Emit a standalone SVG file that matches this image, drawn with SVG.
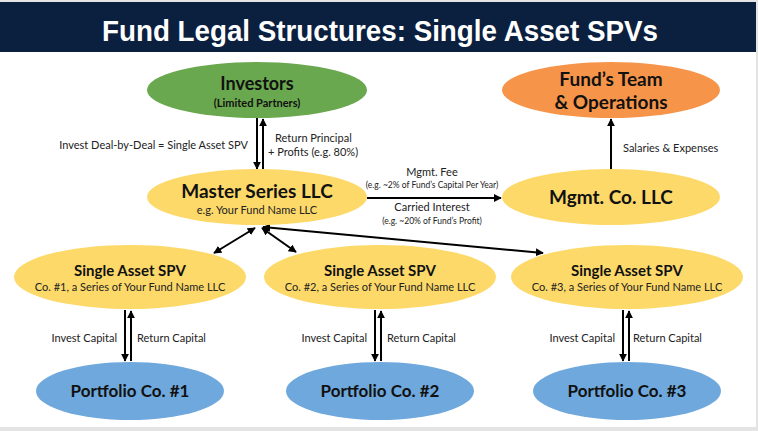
<svg xmlns="http://www.w3.org/2000/svg" width="758" height="431" viewBox="0 0 758 431">
<defs>
<marker id="ah" viewBox="0 0 10 10" refX="9" refY="5" markerWidth="4" markerHeight="4" orient="auto-start-reverse" markerUnits="strokeWidth"><path d="M0,0 L10,5 L0,10 z" fill="#000"/></marker>
<style>
.b{font-family:Lato,"Liberation Sans",sans-serif;font-weight:bold;fill:#111;text-anchor:middle}
.l{font-family:Lato,"Liberation Sans",sans-serif;fill:#222;font-size:11px}
.s{font-family:Lato,"Liberation Sans",sans-serif;fill:#222;font-size:8.5px;text-anchor:middle}
.c{stroke:#000;stroke-width:2;fill:none}
.y{fill:#fdd96a}
.bl{fill:#6fa8dc}
</style>
</defs>
<rect width="758" height="431" fill="#e4e4e4"/>
<rect x="0" y="2" width="756" height="425" fill="#ffffff"/>
<rect x="0" y="2" width="756" height="50" fill="#0b1f3f"/>
<text x="380" y="41" font-family="'Liberation Sans',sans-serif" font-weight="bold" font-size="30" fill="#fff" text-anchor="middle" textLength="556" lengthAdjust="spacingAndGlyphs">Fund Legal Structures: Single Asset SPVs</text>

<g id="connectors">
<line class="c" x1="257" y1="118" x2="257" y2="169" marker-end="url(#ah)"/>
<line class="c" x1="263" y1="169" x2="263" y2="119" marker-end="url(#ah)"/>
<line class="c" x1="611" y1="169" x2="611" y2="119" marker-end="url(#ah)"/>
<line class="c" x1="367" y1="198" x2="501" y2="198" marker-end="url(#ah)"/>
<line class="c" x1="255" y1="228" x2="214" y2="253" marker-start="url(#ah)" marker-end="url(#ah)"/>
<line class="c" x1="262" y1="228" x2="296" y2="252" marker-start="url(#ah)" marker-end="url(#ah)"/>
<line class="c" x1="263" y1="227" x2="543" y2="253" marker-start="url(#ah)" marker-end="url(#ah)"/>
<line class="c" x1="125" y1="310" x2="125" y2="361" marker-end="url(#ah)"/>
<line class="c" x1="131" y1="361" x2="131" y2="311" marker-end="url(#ah)"/>
<line class="c" x1="375" y1="310" x2="375" y2="361" marker-end="url(#ah)"/>
<line class="c" x1="381" y1="361" x2="381" y2="311" marker-end="url(#ah)"/>
<line class="c" x1="623" y1="310" x2="623" y2="361" marker-end="url(#ah)"/>
<line class="c" x1="629" y1="361" x2="629" y2="311" marker-end="url(#ah)"/>
<text class="l" x="248" y="149" text-anchor="end">Invest Deal-by-Deal = Single Asset SPV</text>
<text class="l" x="275" y="142">Return Principal</text>
<text class="l" x="268" y="156">+ Profits (e.g. 80%)</text>
<text class="l" x="623" y="152">Salaries &amp; Expenses</text>
<text class="l" x="432" y="176" text-anchor="middle">Mgmt. Fee</text>
<text class="s" x="432" y="188">(e.g. ~2% of Fund’s Capital Per Year)</text>
<text class="l" x="432" y="211" text-anchor="middle">Carried Interest</text>
<text class="s" x="432" y="224">(e.g. ~20% of Fund’s Profit)</text>
<text class="l" x="117" y="342" text-anchor="end">Invest Capital</text>
<text class="l" x="137" y="342">Return Capital</text>
<text class="l" x="367" y="342" text-anchor="end">Invest Capital</text>
<text class="l" x="387" y="342">Return Capital</text>
<text class="l" x="615" y="342" text-anchor="end">Invest Capital</text>
<text class="l" x="633" y="342">Return Capital</text>
</g>

<g id="investors">
<ellipse cx="257" cy="90" rx="110" ry="28" fill="#6aa84f"/>
<text class="b" x="257" y="90" font-size="18">Investors</text>
<text class="b" x="257" y="107" font-size="11">(Limited Partners)</text>
</g>
<g id="team">
<ellipse cx="611" cy="90" rx="109" ry="28" fill="#f6954a"/>
<text class="b" x="611" y="86" font-size="19">Fund’s Team</text>
<text class="b" x="611" y="109" font-size="19">&amp; Operations</text>
</g>
<g id="master">
<ellipse class="y" cx="257" cy="197" rx="110" ry="28"/>
<text class="b" x="257" y="198" font-size="19">Master Series LLC</text>
<text class="l" x="257" y="214" text-anchor="middle" font-size="12">e.g. Your Fund Name LLC</text>
</g>
<g id="mgmtco">
<ellipse class="y" cx="611" cy="197" rx="109" ry="28"/>
<text class="b" x="611" y="204" font-size="19">Mgmt. Co. LLC</text>
</g>
<g id="spv1">
<ellipse class="y" cx="130" cy="277" rx="116" ry="32"/>
<text class="b" x="130" y="276" font-size="15">Single Asset SPV</text>
<text class="l" x="130" y="291" text-anchor="middle" font-size="12">Co. #1, a Series of Your Fund Name LLC</text>
</g>
<g id="spv2">
<ellipse class="y" cx="380" cy="277" rx="116" ry="32"/>
<text class="b" x="380" y="276" font-size="15">Single Asset SPV</text>
<text class="l" x="380" y="291" text-anchor="middle" font-size="12">Co. #2, a Series of Your Fund Name LLC</text>
</g>
<g id="spv3">
<ellipse class="y" cx="627" cy="277" rx="116" ry="32"/>
<text class="b" x="627" y="276" font-size="15">Single Asset SPV</text>
<text class="l" x="627" y="291" text-anchor="middle" font-size="12">Co. #3, a Series of Your Fund Name LLC</text>
</g>
<g id="pf1">
<ellipse class="bl" cx="130" cy="391" rx="94" ry="29"/>
<text class="b" x="130" y="397" font-size="17">Portfolio Co. #1</text>
</g>
<g id="pf2">
<ellipse class="bl" cx="380" cy="391" rx="94" ry="29"/>
<text class="b" x="380" y="397" font-size="17">Portfolio Co. #2</text>
</g>
<g id="pf3">
<ellipse class="bl" cx="627" cy="391" rx="94" ry="29"/>
<text class="b" x="627" y="397" font-size="17">Portfolio Co. #3</text>
</g>
</svg>
